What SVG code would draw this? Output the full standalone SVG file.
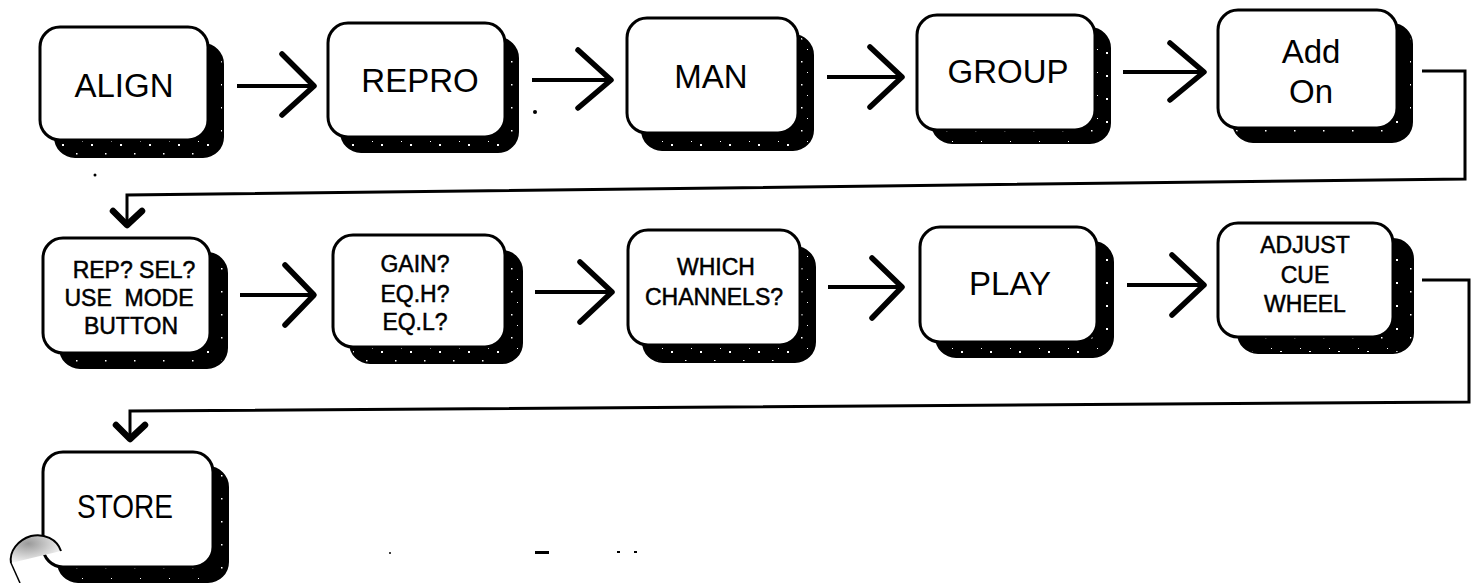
<svg xmlns="http://www.w3.org/2000/svg" width="1473" height="583" viewBox="0 0 1473 583">
  <style>
    .shadow { fill: url(#speckle); stroke: #000; stroke-width: 2; }
    .box { fill: #fff; stroke: #000; stroke-width: 3; }
    .lbl { font-family: "Liberation Sans", Arial, sans-serif; fill: #000; text-anchor: middle; }
    .big { font-size: 33px; }
    .mid { font-size: 23px; stroke: #000; stroke-width: 0.5; }
    .line { fill: none; stroke: #000; stroke-width: 4; stroke-linecap: butt; stroke-linejoin: miter; }
    .loop { fill: none; stroke: #000; stroke-width: 3; stroke-linejoin: miter; }
    .head { fill: none; stroke: #000; stroke-width: 5.5; stroke-linecap: round; stroke-linejoin: round; }
    .dhead { fill: none; stroke: #000; stroke-width: 6.5; stroke-linecap: round; stroke-linejoin: round; }
  </style>
  <defs>
    <!-- black drop shadow with sparse white flecks -->
    <pattern id="speckle" width="29" height="23" patternUnits="userSpaceOnUse">
      <rect width="29" height="23" fill="#000"/>
      <rect x="4" y="6" width="2" height="2" fill="#fff"/>
      <rect x="18" y="15" width="1.5" height="1.5" fill="#fff"/>
      <rect x="24" y="3" width="1" height="1" fill="#fff"/>
    </pattern>
    <radialGradient id="thumbShade" cx="0.35" cy="0.3" r="0.8">
      <stop offset="0" stop-color="#9a9a9a"/>
      <stop offset="0.6" stop-color="#d6d6d6"/>
      <stop offset="1" stop-color="#ffffff"/>
    </radialGradient>
  </defs>
  <rect width="1473" height="583" fill="#fff"/>

  <!-- connectors -->
  <g id="connectors">
    <path class="line" d="M237 86 H312"/>
    <polyline class="head" points="282,54 314,86 282,115"/>

    <path class="line" d="M532 80 H609"/>
    <polyline class="head" points="578,50 611,80 578,108"/>

    <path class="line" d="M827 77 H900"/>
    <polyline class="head" points="870,47 902,77 870,107"/>

    <path class="line" d="M1123 72 H1202"/>
    <polyline class="head" points="1170,43 1204,72 1170,100"/>

    <polyline class="loop" points="1422,71 1465,71 1465,179 127,195 127,222"/>
    <polyline class="dhead" points="113,211 127,225 142,211"/>

    <path class="line" d="M240 295 H312"/>
    <polyline class="head" points="285,265 314,295 285,325"/>

    <path class="line" d="M535 292 H610"/>
    <polyline class="head" points="580,262 612,292 580,322"/>

    <path class="line" d="M828 287 H900"/>
    <polyline class="head" points="872,258 902,287 872,318"/>

    <path class="line" d="M1127 285 H1202"/>
    <polyline class="head" points="1172,255 1204,285 1172,315"/>

    <polyline class="loop" points="1422,280 1469,280 1469,402 130,411 130,437"/>
    <polyline class="dhead" points="116,425 130,439 145,425"/>
  </g>

  <!-- row 1 -->
  <g id="node-align">
    <rect class="shadow" x="55" y="44" width="168" height="113" rx="20"/>
    <rect class="box" x="40" y="27" width="168" height="113" rx="20"/>
    <text class="lbl big" x="124" y="97">ALIGN</text>
  </g>
  <g id="node-repro">
    <rect class="shadow" x="341" y="38" width="177" height="114" rx="20"/>
    <rect class="box" x="328" y="23" width="177" height="114" rx="20"/>
    <text class="lbl big" x="420" y="92">REPRO</text>
  </g>
  <g id="node-man">
    <rect class="shadow" x="642" y="35" width="171" height="115" rx="20"/>
    <rect class="box" x="627" y="18" width="171" height="115" rx="20"/>
    <text class="lbl big" x="711" y="88">MAN</text>
  </g>
  <g id="node-group">
    <rect class="shadow" x="932" y="28" width="178" height="115" rx="20"/>
    <rect class="box" x="917" y="15" width="178" height="115" rx="20"/>
    <text class="lbl big" x="1008" y="83">GROUP</text>
  </g>
  <g id="node-addon">
    <rect class="shadow" x="1233" y="24" width="179" height="118" rx="20"/>
    <rect class="box" x="1218" y="10" width="179" height="118" rx="20"/>
    <text class="lbl big" x="1311" y="63">Add</text>
    <text class="lbl big" x="1311" y="103">On</text>
  </g>

  <!-- row 2 -->
  <g id="node-mode">
    <rect class="shadow" x="60" y="253" width="167" height="115" rx="20"/>
    <rect class="box" x="43" y="238" width="167" height="115" rx="20"/>
    <text class="lbl mid" x="134" y="278" font-size="24">REP? SEL?</text>
    <text class="lbl mid" x="129" y="306" font-size="24" xml:space="preserve">USE  MODE</text>
    <text class="lbl mid" x="131" y="334" font-size="24">BUTTON</text>
  </g>
  <g id="node-gain">
    <rect class="shadow" x="350" y="251" width="172" height="112" rx="20"/>
    <rect class="box" x="333" y="235" width="172" height="112" rx="20"/>
    <text class="lbl mid" x="415" y="272">GAIN?</text>
    <text class="lbl mid" x="415" y="302">EQ.H?</text>
    <text class="lbl mid" x="415" y="330">EQ.L?</text>
  </g>
  <g id="node-channels">
    <rect class="shadow" x="643" y="247" width="172" height="115" rx="20"/>
    <rect class="box" x="628" y="230" width="172" height="115" rx="20"/>
    <text class="lbl mid" x="716" y="275">WHICH</text>
    <text class="lbl mid" x="714" y="305">CHANNELS?</text>
  </g>
  <g id="node-play">
    <rect class="shadow" x="936" y="242" width="177" height="115" rx="20"/>
    <rect class="box" x="920" y="227" width="177" height="115" rx="20"/>
    <text class="lbl big" x="1010" y="295">PLAY</text>
  </g>
  <g id="node-adjust">
    <rect class="shadow" x="1238" y="239" width="175" height="114" rx="20"/>
    <rect class="box" x="1218" y="223" width="175" height="114" rx="20"/>
    <text class="lbl mid" x="1305" y="253" font-size="22">ADJUST</text>
    <text class="lbl mid" x="1305" y="283" font-size="22">CUE</text>
    <text class="lbl mid" x="1305" y="312" font-size="22">WHEEL</text>
  </g>

  <!-- row 3 -->
  <g id="node-store">
    <rect class="shadow" x="58" y="467" width="170" height="115" rx="20"/>
    <rect class="box" x="43" y="452" width="170" height="115" rx="20"/>
    <text class="lbl big" x="125" y="518" font-size="32" textLength="96" lengthAdjust="spacingAndGlyphs">STORE</text>
  </g>

  <!-- fingertip at the lower left edge of the sheet -->
  <path d="M61 551 C57 539 44 533 31 536 C18 540 9 551 11 563 L20 583 L0 583 L0 540 Z" fill="#fff"/>
  <path d="M61 551 C57 539 44 533 31 536 C18 540 9 551 11 563" fill="url(#thumbShade)" stroke="#000" stroke-width="2"/>
  <path d="M11 563 L20 583" fill="none" stroke="#000" stroke-width="1.5"/>

  <!-- stray specks -->
  <g fill="#000">
    <circle cx="95" cy="175" r="1.5"/>
    <circle cx="535" cy="112" r="2"/>
    <circle cx="390" cy="553" r="1"/>
    <rect x="535" y="551" width="14" height="3"/>
    <rect x="617" y="551" width="3" height="2"/>
    <rect x="634" y="551" width="3" height="2"/>
  </g>
</svg>
